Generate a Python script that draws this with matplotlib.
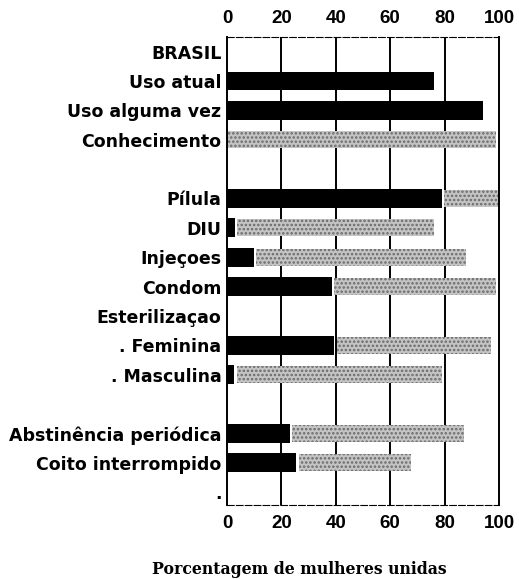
import matplotlib.pyplot as plt
import matplotlib as mpl

# rows top to bottom, '' = spacer row
categories = ["BRASIL", "Uso atual", "Uso alguma vez", "Conhecimento", "",
              "Pílula", "DIU", "Injeçoes", "Condom", "Esterilizaçao",
              ". Feminina", ". Masculina", "",
              "Abstinência periódica", "Coito interrompido", "."]

# current use (black) and knowledge (stippled gray), % of married women
uso = [0, 76, 94, 0, 0, 79, 3, 10, 38.5, 0, 39.5, 2.7, 0, 23, 25.5, 0]
conhecimento = [0, 0, 0, 99, 0, 100, 76, 88, 99, 0, 97, 79, 0, 87, 67.5, 0]

ticks = [0, 20, 40, 60, 80, 100]

mpl.rcParams['font.family'] = ['Liberation Sans', 'DejaVu Sans']
mpl.rcParams['hatch.linewidth'] = 1.2

fig = plt.figure(figsize=(5.19, 5.79), dpi=100)
ax = fig.add_axes([227 / 519, 1 - 505 / 579, 272 / 519, 468 / 579])

y = list(range(len(categories)))
ax.barh(y, uso, height=0.64, color='black', zorder=3)
for i, (u, k) in enumerate(zip(uso, conhecimento)):
    if k > 0:
        start = u + 0.8 if u > 0 else 0
        ax.barh(i, k - start, left=start, height=0.58, color='#c4c4c4',
                edgecolor='#6a6a6a', hatch='....', linewidth=0, zorder=2)

for t in ticks[1:-1]:
    ax.axvline(t, color='black', lw=1.4, zorder=1)

ax.set_xlim(0, 100)
ax.set_ylim(15.44, -0.5)
ax.set_xticks(ticks)
ax.set_xticklabels([str(t) for t in ticks], fontweight='bold', fontsize=13.5)
ax.set_yticks(y)
ax.set_yticklabels(categories, family=['DejaVu Sans'], fontweight='bold',
                   fontsize=12.5)
ax.tick_params(axis='x', top=True, labeltop=True, bottom=False, length=0,
               pad=7)
ax.tick_params(axis='y', length=0, pad=4)
for lab in ax.xaxis.get_ticklabels(which='both'):
    lab.set_fontweight('bold')
    lab.set_fontsize(13.5)
for tk in ax.xaxis.get_major_ticks():
    tk.label2.set_fontweight('bold')
    tk.label2.set_fontsize(13.5)

for s in ['left', 'right']:
    ax.spines[s].set_linewidth(1.4)
for s in ['top', 'bottom']:
    ax.spines[s].set_linewidth(0.8)
    ax.spines[s].set_linestyle((0, (6, 2)))

fig.text(299 / 519, 1 - 570 / 579, "Porcentagem de mulheres unidas",
         ha='center', va='center', fontsize=11.3, fontweight='bold',
         family=['DejaVu Serif'])

fig.savefig('out.png', dpi=100)
